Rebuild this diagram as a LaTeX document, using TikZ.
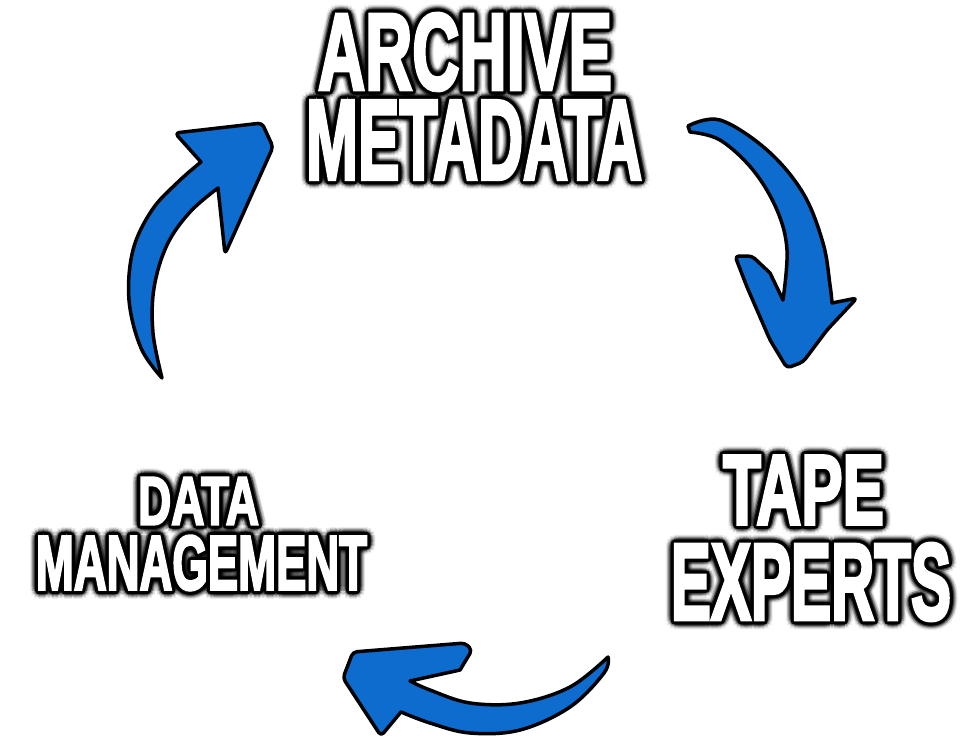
\documentclass[tikz,border=0pt]{standalone}
\usepackage{fontspec}
\usepackage{graphicx}
\newfontfamily\impactfont[BoldFeatures={FakeBold=3.5}]{Liberation Sans}
\definecolor{arrowblue}{RGB}{14,108,206}
\tikzset{
  arrowshape/.style={fill=arrowblue, draw=black, line width=3.5pt, line join=round},
  capline/.style={inner sep=0pt, anchor=center},
}
\newcommand\capsbox[3]{\resizebox{#1pt}{#2pt}{\impactfont\bfseries #3}}
% name, x, y, width, height, text
\newcommand\outlinedtext[6]{%
  \foreach \r/\o in {8/0.07,6/0.12,4.5/0.2} {%
    \foreach \a in {0,30,...,330} {%
      \path (#2,#3) ++(\a:\r pt) node[capline, text=black, opacity=\o] {\capsbox{#4}{#5}{#6}};
    }%
  }%
  \foreach \a in {0,22.5,...,337.5} {%
    \path (#2,#3) ++(\a:3pt) node[capline, text=black] {\capsbox{#4}{#5}{#6}};
  }%
  \node[capline, text=white] (#1) at (#2,#3) {\capsbox{#4}{#5}{#6}};
}
\begin{document}
\begin{tikzpicture}[x=1pt,y=-1pt]
\fill[white] (0,0) rectangle (969,744);
\useasboundingbox (0,0) rectangle (969,744);

% texts
\outlinedtext{archive}{465}{52}{294}{76}{ARCHIVE}
\outlinedtext{metadata}{474}{140}{336}{78}{METADATA}
\outlinedtext{tape}{803.5}{490}{161}{68}{TAPE}
\outlinedtext{experts}{811}{582}{280}{76}{EXPERTS}
\outlinedtext{data}{198.5}{501}{121}{47}{DATA}
\outlinedtext{management}{201.5}{563}{331}{54}{MANAGEMENT}

% arrow 1 (left, pointing up-right)
\draw[arrowshape]
  plot[smooth, tension=0.6] coordinates {(162,378) (141,348) (129,300) (133,250) (152,210) (178,182) (201,162)}
  [rounded corners=4pt] -- (175,133) -- (262,123) -- (273,147) -- (225,254) [sharp corners] -- (218,188)
  -- plot[smooth, tension=0.6] coordinates {(218,188) (190,212) (167,245) (154,288) (153,333) (162,378)}
  -- cycle;

% arrow 2 (right, pointing down)
\draw[arrowshape]
  plot[smooth, tension=0.6] coordinates {(688,126) (720,120) (767,150) (803,193) (823,243) (830,285) (832,303)}
  [rounded corners=4pt] -- (857,298) -- (827,330) -- (803,362) -- (787,368) -- (770,340) -- (747,287) -- (735,256) -- (752,256) [sharp corners] -- (770,273) -- (783,300)
  -- plot[smooth, tension=0.6] coordinates {(783,300) (787,250) (777,210) (753,170) (720,140) (690,132)}
  -- cycle;

% arrow 3 (bottom, pointing left)
\draw[arrowshape]
  plot[smooth, tension=0.6] coordinates {(608,657) (604,673) (570,707) (520,730) (470,733) (430,723) (401,712)}
  [rounded corners=4pt] -- (381,736) -- (343,678) -- (353,652) -- (465,643) -- (472,650) [sharp corners] -- (460,670) -- (410,681)
  -- plot[smooth, tension=0.6] coordinates {(410,681) (430,690) (470,703) (520,703) (570,687) (608,657)}
  -- cycle;
\end{tikzpicture}
\end{document}
